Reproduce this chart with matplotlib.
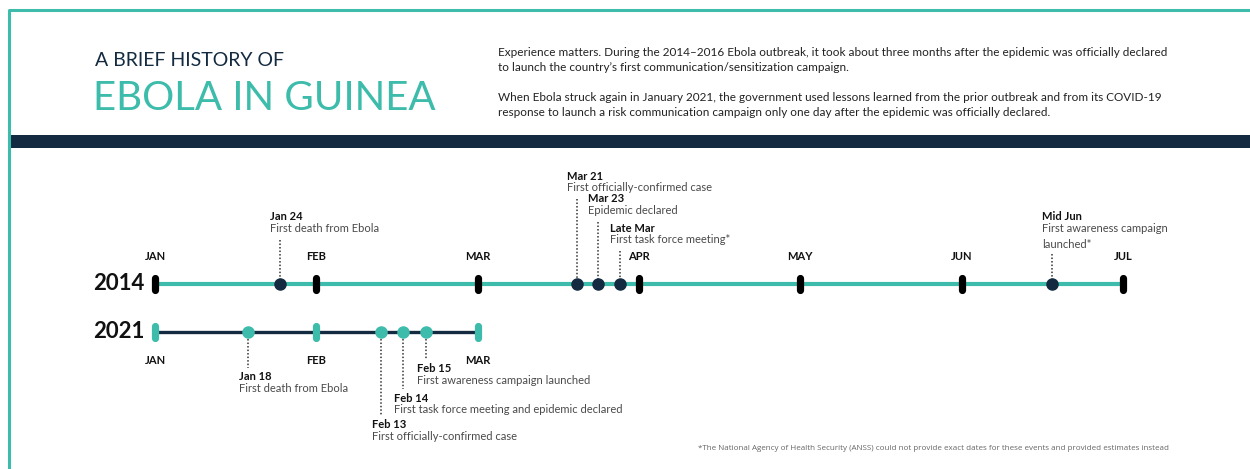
import matplotlib.pyplot as plt

TEAL = '#3dbcab'
NAVY = '#142a40'
GRAY = '#4a4a4a'

plt.rcParams['font.family'] = ['Lato', 'DejaVu Sans']

# month ticks (month index, 0 = Jan)
months_2014 = ['JAN', 'FEB', 'MAR', 'APR', 'MAY', 'JUN', 'JUL']
months_2021 = ['JAN', 'FEB', 'MAR']

# events, position in months from Jan 1
ev14_pos = [0.775, 2.616, 2.748, 2.88, 5.56]
ev14_date = ['Jan 24', 'Mar 21', 'Mar 23', 'Late Mar', 'Mid Jun']
ev14_text = ['First death from Ebola', 'First officially-confirmed case', 'Epidemic declared',
             'First task force meeting*', 'First awareness campaign\nlaunched*']

ev21_pos = [0.575, 1.40, 1.54, 1.68]
ev21_date = ['Jan 18', 'Feb 13', 'Feb 14', 'Feb 15']
ev21_text = ['First death from Ebola', 'First officially-confirmed case',
             'First task force meeting and epidemic declared', 'First awareness campaign launched']

W, H = 1250, 469
fig = plt.figure(figsize=(W / 100, H / 100), dpi=100)

# decoration layer in pixel units
bg = fig.add_axes([0, 0, 1, 1])
bg.set_xlim(0, W)
bg.set_ylim(H, 0)
bg.axis('off')
bg.plot([9, 9, W], [H, 10, 10], color=TEAL, lw=2.2, solid_capstyle='butt')
bg.fill_between([10, W], 135, 148, color=NAVY, lw=0)

bg.text(95, 60, 'A BRIEF HISTORY OF', fontsize=14, color=NAVY,
        va='center', ha='left')
bg.text(93, 98, 'EBOLA IN GUINEA', fontsize=29, color=TEAL,
        va='center', ha='left')

para1 = ("Experience matters. During the 2014\u20132016 Ebola outbreak, it took about three months after the epidemic was officially declared\n"
         "to launch the country\u2019s first communication/sensitization campaign.")
para2 = ("When Ebola struck again in January 2021, the government used lessons learned from the prior outbreak and from its COVID-19\n"
         "response to launch a risk communication campaign only one day after the epidemic was officially declared.")
bg.text(498, 60, para1, fontsize=8.5, color='#222222', va='center', ha='left', linespacing=1.4)
bg.text(498, 105, para2, fontsize=8.5, color='#222222', va='center', ha='left', linespacing=1.4)

bg.text(145, 284, '2014', fontsize=16, fontweight='bold', color='#111111', va='center', ha='right')
bg.text(145, 332, '2021', fontsize=16, fontweight='bold', color='#111111', va='center', ha='right')

bg.text(698, 448, '*The National Agency of Health Security (ANSS) could not provide exact dates for these events '
        'and provided estimates instead', fontsize=5.8, color='#666666', family=['Open Sans', 'DejaVu Sans'],
        va='center', ha='left')

# timeline layer: x in months, y in pixels
ax = fig.add_axes([0, 0, 1, 1])
ax.patch.set_alpha(0)
px_per_month = (1123 - 155) / 6
ax.set_xlim(-155 / px_per_month, (W - 155) / px_per_month)
ax.set_ylim(H, 0)
ax.axis('off')

Y14, Y21 = 284, 332

# 2014 row
ax.plot([0, len(months_2014) - 1], [Y14, Y14], color=TEAL, lw=3, zorder=2)
for i, m in enumerate(months_2014):
    ax.plot([i, i], [Y14 - 6, Y14 + 6], color='black', lw=5.2, solid_capstyle='round', zorder=4)
    ax.text(i, 256, m, fontsize=8, fontweight='bold', color='#111111', ha='center', va='center')

# label heights for the stacked 2014 annotations (bold line y)
lab14_y = [217, 176, 199, 228, 217]
for x, d, t, ly in zip(ev14_pos, ev14_date, ev14_text, lab14_y):
    nlines = t.count('\n') + 1
    top = ly + 13.5 * nlines + 10
    ax.plot([x, x], [top, Y14], color='#333333', lw=1.1, ls=(0, (1, 1.3)), zorder=1)
    ax.plot(x, Y14, 'o', ms=8, color=NAVY, zorder=3)
    tx = x - 10 / px_per_month
    ax.text(tx, ly, d, fontsize=8, fontweight='bold', color='#111111', ha='left', va='center')
    ax.text(tx, ly + 6, t, fontsize=8, color=GRAY, ha='left', va='top', linespacing=1.5)

# 2021 row
ax.plot([0, len(months_2021) - 1], [Y21, Y21], color=NAVY, lw=2.4, zorder=2)
for i, m in enumerate(months_2021):
    ax.plot([i, i], [Y21 - 6, Y21 + 6], color=TEAL, lw=5.2, solid_capstyle='round', zorder=4)
    ax.text(i, 360, m, fontsize=8, fontweight='bold', color='#111111', ha='center', va='center')

lab21_y = [377, 425, 398, 369]
for x, d, t, ly in zip(ev21_pos, ev21_date, ev21_text, lab21_y):
    ax.plot([x, x], [Y21, ly - 9], color='#333333', lw=1.1, ls=(0, (1, 1.3)), zorder=1)
    ax.plot(x, Y21, 'o', ms=8, color=TEAL, zorder=3)
    tx = x - 9 / px_per_month
    ax.text(tx, ly, d, fontsize=8, fontweight='bold', color='#111111', ha='left', va='center')
    ax.text(tx, ly + 6, t, fontsize=8, color=GRAY, ha='left', va='top')

fig.savefig('out.png', dpi=100)
